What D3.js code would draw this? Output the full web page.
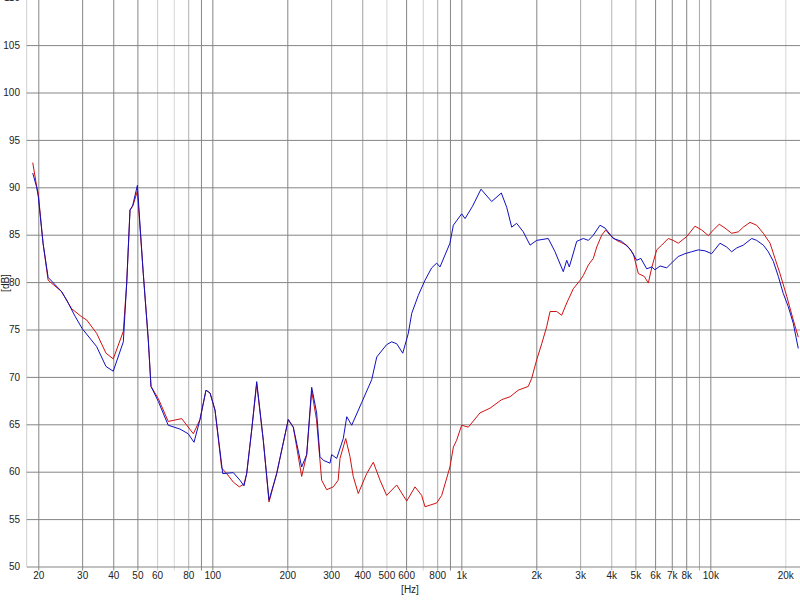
<!DOCTYPE html>
<html>
<head>
<meta charset="utf-8">
<script src="https://cdn.jsdelivr.net/npm/d3@7/dist/d3.min.js"></script>
<style>
  html, body { margin: 0; padding: 0; background: #ffffff; }
  svg { display: block; }
  text { font-family: "Liberation Sans Narrow", "Liberation Sans", Arial, sans-serif; font-size: 10px; fill: #222; }
</style>
</head>
<body>
<svg id="chart" width="800" height="600"></svg>
<script>
// ---------- data ----------
const gridFreqs = [20,30,40,50,60,70,80,90,100,200,300,400,500,600,700,800,900,1000,2000,3000,4000,5000,6000,7000,8000,9000,10000,20000];
const labelFreqs = [20,30,40,50,60,80,100,200,300,400,500,600,800,1000,2000,3000,4000,5000,6000,7000,8000,10000,20000];
const labelTexts = ["20","30","40","50","60","80","100","200","300","400","500","600","800","1k","2k","3k","4k","5k","6k","7k","8k","10k","20k"];
const dbTicks = [50,55,60,65,70,75,80,85,90,95,100,105,110];

const blueFreq = [19.0,19.7,20,20.9,21.9,24.8,26.0,28.1,30,34.3,37.4,40,43.9,45.3,46.7,47.9,50,52.8,55.3,56.7,60.7,66.5,74.1,80,84.4,89.2,94.3,97.9,102.5,110.1,121.4,129.1,134,137.4,143.9,150.7,160.2,168.9,181.3,201.8,211.4,228.4,239.3,250.6,262.4,270.5,279.1,296.9,301.4,315.8,335.6,346.6,362.8,398,436.5,457.4,501,525,550,581.7,612.4,632,671.6,714.6,760,796,821,900,928.6,1003,1035,1109,1199,1324,1447,1521,1593,1668,1773,1888,2007,2234,2378,2567,2650,2714,2906,3090,3236,3388,3604,3776,4075,4406,4756,5060,5261,5551,5813,5993,6281,6681,7097,7434,7910,8414,8946,9516,10124,10930,11630,12180,12757,13560,14660,15350,16320,17090,17900,18750,19630,20560,21530,22550];
const blueDb = [91.5,90.0,89.0,84.1,80.5,79.0,78.1,76.4,75.1,73.2,71.1,70.6,73.7,79.9,87.6,88.1,90.2,80.9,73.9,69.0,67.4,64.9,64.5,64.0,63.1,65.5,68.6,68.3,66.5,59.8,59.9,59.1,58.5,59.8,64.4,69.5,63.3,57.0,59.8,65.5,64.7,60.5,61.8,68.9,66.2,61.6,61.2,60.9,61.8,61.4,63.5,65.8,64.9,67.3,69.7,72.1,73.4,73.7,73.5,72.5,74.6,76.7,78.6,80.2,81.5,82.0,81.6,84.1,86.0,87.2,86.7,88.0,89.8,88.5,89.4,87.9,85.8,86.2,85.3,83.9,84.4,84.6,83.2,81.1,82.3,81.6,84.3,84.6,84.4,84.95,86.0,85.7,84.6,84.3,83.5,82.3,82.5,81.4,81.6,81.3,81.7,81.5,82.2,82.7,83.0,83.2,83.4,83.3,83.0,84.1,83.7,83.2,83.6,83.9,84.6,84.4,83.9,83.2,82.2,80.6,78.8,77.4,75.65,73.0];

const redFreq = [19.0,19.7,20,20.9,21.9,24.8,27.2,30,31.3,34.3,37.4,40,43.9,45.3,46.7,47.9,50,52.8,55.3,56.7,60.7,66.5,75.3,83.9,89.2,94.3,97.9,102.5,109,114.2,121.4,128.3,134,137.4,143.9,150.7,160.2,168.9,181.3,201.8,211.4,228.4,239.3,250.6,262,274.8,287.8,306,320,325.6,343.3,357,368,385.5,416.8,443,471.5,501,550,603.5,651.6,693,714.6,796,834,900,929,957,1003,1067,1188,1303,1452,1568,1693,1857,1917,2007,2103,2202,2271,2415,2529,2650,2817,3000,3090,3236,3388,3497,3661,3801,3954,4205,4614,4904,5138,5428,5636,5813,6087,6380,6777,7097,7434,8036,8675,9230,9815,10280,10860,11450,12180,12950,13560,14430,15350,16320,17370,18180,19040,20270,21530,22550];
const redDb = [92.6,90.1,89.3,84.1,80.2,79.0,77.2,76.3,76.0,74.6,72.5,71.9,74.8,79.9,87.6,88.0,89.6,80.9,73.9,69.0,67.7,65.3,65.6,64.0,65.5,68.6,68.3,66.5,60.4,59.8,58.9,58.4,58.7,59.8,64.4,69.3,63.3,56.8,59.8,65.5,64.7,59.5,61.8,68.5,65.5,59.1,58.1,58.4,59.1,61.4,63.5,61.6,59.5,57.7,59.8,61.0,59.1,57.5,58.6,56.9,58.4,57.5,56.3,56.7,57.5,60.5,62.6,63.3,64.9,64.7,66.2,66.7,67.6,67.9,68.6,69.0,69.85,71.8,73.5,75.3,76.9,76.9,76.5,77.8,79.3,80.2,80.7,81.8,82.5,83.7,84.95,85.5,84.95,84.4,83.9,83.0,80.9,80.6,79.9,81.5,83.4,83.9,84.6,84.4,84.1,84.8,85.9,85.5,84.9,85.5,86.1,85.7,85.15,85.3,85.8,86.3,86.0,85.15,84.1,82.5,80.9,78.5,76.0,74.2];

// ---------- layout ----------
const W = 800, H = 600;
const plotLeft = 26.7, plotRight = 800, plotBottom = 566.5, plotTop = 0;
const svg = d3.select("#chart");

const x = d3.scaleLog().domain([20, 20000]).range([38.3, 785.3]);
const y = d3.scaleLinear().domain([50, 110]).range([566.5, -2.3]);

// grid line tones (emulating the anti-aliased look of the original)
const gridTone = f => {
  const light = {60:"#cccccc",70:"#d8d8d8",500:"#d4d4d4",700:"#d0d0d0",20000:"#d4d4d4"};
  const mid = {80:"#b0b0b0",300:"#a4a4a4",400:"#a0a0a0",800:"#a8a8a8",3000:"#a8a8a8",4000:"#b4b4b4",5000:"#a4a4a4",9000:"#a8a8a8"};
  return light[f] || mid[f] || "#858585";
};

// left border
svg.append("line")
  .attr("x1", plotLeft).attr("x2", plotLeft)
  .attr("y1", plotTop).attr("y2", plotBottom)
  .attr("stroke", "#cfcfcf").attr("stroke-width", 1);

// vertical grid via axis
const xGrid = svg.append("g")
  .attr("transform", `translate(0,${plotBottom + 4})`)
  .call(d3.axisBottom(x).tickValues(gridFreqs).tickSize(-(plotBottom + 4 - plotTop)).tickFormat(""));
xGrid.select(".domain").remove();
xGrid.selectAll(".tick line")
  .attr("stroke", d => gridTone(d)).attr("stroke-width", 1);

// horizontal grid via axis
const yGrid = svg.append("g")
  .attr("transform", `translate(${plotLeft},0)`)
  .call(d3.axisLeft(y).tickValues(dbTicks).tickSize(-(plotRight - plotLeft)).tickFormat(""));
yGrid.select(".domain").remove();
yGrid.selectAll(".tick line").attr("stroke", "#858585").attr("stroke-width", 1);

// y labels
const yAxis = svg.append("g")
  .attr("transform", `translate(20,0)`)
  .call(d3.axisLeft(y).tickValues(dbTicks).tickSize(0).tickPadding(0).tickFormat(d3.format("d")));
yAxis.select(".domain").remove();
yAxis.selectAll("text")
  .attr("fill", "#222")
  .style("font-family", "'Liberation Sans Narrow','Liberation Sans',Arial,sans-serif")
  .style("font-size", "10px");

// x labels
const xAxis = svg.append("g")
  .attr("transform", `translate(0,572)`)
  .call(d3.axisBottom(x).tickValues(labelFreqs).tickSize(0).tickPadding(0)
    .tickFormat((d, i) => labelTexts[labelFreqs.indexOf(d)]));
xAxis.select(".domain").remove();
xAxis.selectAll("text")
  .attr("fill", "#222")
  .style("font-family", "'Liberation Sans Narrow','Liberation Sans',Arial,sans-serif")
  .style("font-size", "10px");

// axis titles
svg.append("text").attr("x", 410).attr("y", 593).attr("text-anchor", "middle").text("[Hz]");
svg.append("text").attr("transform", "translate(9,283) rotate(-90)").attr("text-anchor", "middle").text("[dB]");

// curves
const line = d3.line().x(d => x(d[0])).y(d => y(d[1]));
const redData = redFreq.map((f, i) => [f, redDb[i]]);
const blueData = blueFreq.map((f, i) => [f, blueDb[i]]);

svg.append("path").datum(redData)
  .attr("d", line).attr("fill", "none")
  .attr("stroke", "#d01010").attr("stroke-width", 1);
svg.append("path").datum(blueData)
  .attr("d", line).attr("fill", "none")
  .attr("stroke", "#1010c0").attr("stroke-width", 1);
</script>
</body>
</html>
